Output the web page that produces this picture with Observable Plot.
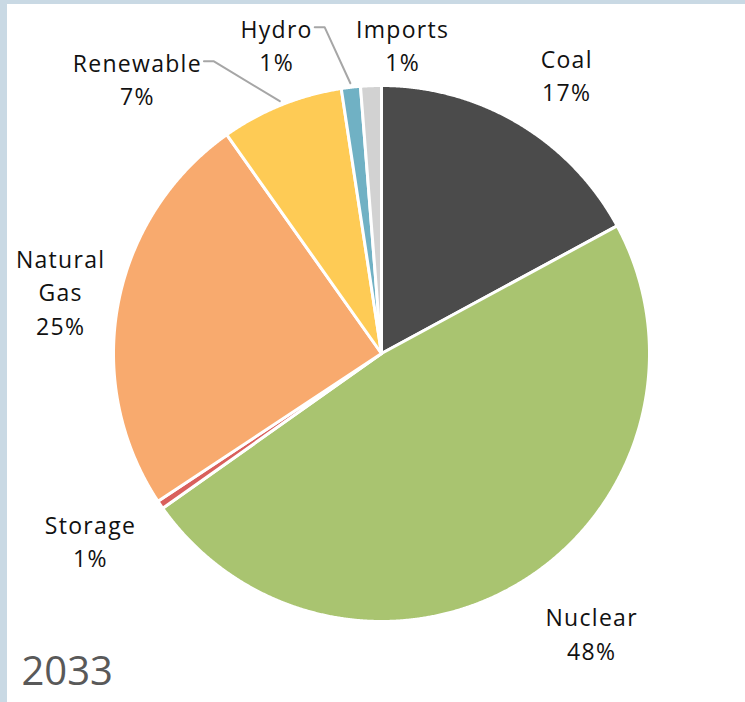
<!DOCTYPE html>
<html>
<head>
<meta charset="utf-8">
<script src="https://cdn.jsdelivr.net/npm/d3@7"></script>
<script src="https://cdn.jsdelivr.net/npm/@observablehq/plot@0.6"></script>
<style>
  html, body { margin: 0; padding: 0; background: #ffffff; }
  #frame { position: relative; width: 745px; height: 702px; overflow: hidden; background: #ffffff; }
  #frame svg { position: absolute; left: 0; top: 0; }
  .strip { position: absolute; background: #c9d9e4; }
  #stripTop { left: 0; top: 0; width: 745px; height: 4px; }
  #stripLeft { left: 0; top: 0; width: 7px; height: 702px; }
</style>
</head>
<body>
<div id="frame"><div id="plot"></div><div class="strip" id="stripTop"></div><div class="strip" id="stripLeft"></div></div>
<script>
// ---- data ----
const sources = ["Coal", "Nuclear", "Storage", "Natural Gas", "Renewable", "Hydro", "Imports"];
const shares = [17.1, 48.1, 0.5, 24.5, 7.4, 1.15, 1.25];
const shareLabels = ["17%", "48%", "1%", "25%", "7%", "1%", "1%"];
const labelNames = ["Coal", "Nuclear", "Storage", "Natural\nGas", "Renewable", "Hydro", "Imports"];
const colors = ["#4b4b4b", "#a9c470", "#d9605c", "#f8aa6e", "#fecb55", "#70b1c4", "#d2d2d2"];
const yearLabel = "2033";

// ---- layout ----
const W = 745, H = 702;
const cx = 381, cy = 353, R = 268;
const fontFamily = "'Open Sans', Lato, sans-serif";
const fontSize = 23, lineHeight = 1.45, letterSpacing = 1.3;
// label placement: [angle in degrees clockwise from top, radius relative to pie radius]
const labelPlacement = {
  "Coal": [33.5, 1.252],
  "Nuclear": [143.0, 1.303],
  "Storage": [237.4, 1.289],
  "Natural Gas": [281.1, 1.220],
  "Renewable": [318.5, 1.375],
  "Hydro": [341.3, 1.221],
  "Imports": [3.9, 1.159]
};
const withLeader = ["Renewable", "Hydro"];

const pie = d3.pie().sort(null).value(d => d)(shares);
const polar = (a, r) => ({x: r * Math.sin(a), y: r * Math.cos(a)});

// slice outlines
const slicePts = [];
pie.forEach((p, i) => {
  const name = sources[i];
  slicePts.push({name, ...polar(0, 0)});
  const n = Math.max(2, Math.ceil((p.endAngle - p.startAngle) / 0.004));
  for (let k = 0; k <= n; k++) {
    const a = p.startAngle + (p.endAngle - p.startAngle) * k / n;
    slicePts.push({name, ...polar(a, 1)});
  }
  slicePts.push({name, ...polar(0, 0)});
});

// text width measurement
const ctx = document.createElement("canvas").getContext("2d");
ctx.font = `${fontSize}px ${fontFamily}`;
const textWidth = s => ctx.measureText(s).width + letterSpacing * s.length;

const labels = pie.map((p, i) => {
  const name = sources[i];
  const mid = (p.startAngle + p.endAngle) / 2;
  const [deg, r] = labelPlacement[name];
  return {name, mid, text: labelNames[i] + "\n" + shareLabels[i], ...polar(deg * Math.PI / 180, r)};
});

// leader lines
const leaderPts = [];
labels.forEach((l, i) => {
  if (!withLeader.includes(l.name)) return;
  const firstLine = labelNames[i].split("\n")[0];
  const halfW = textWidth(firstLine) / 2;
  const lineY = l.y + (lineHeight * fontSize / 2 - fontSize * 0.02) / R;
  const x0 = l.x + (halfW + 2) / R;
  leaderPts.push({name: l.name, x: x0, y: lineY});
  leaderPts.push({name: l.name, x: x0 + 10 / R, y: lineY});
  leaderPts.push({name: l.name, ...polar(l.mid, 1.015)});
});

const chart = Plot.plot({
  width: W,
  height: H,
  margin: 0,
  style: {background: "transparent", fontFamily},
  x: {domain: [-cx / R, (W - cx) / R], axis: null},
  y: {domain: [-(H - cy) / R, cy / R], axis: null},
  color: {domain: sources, range: colors},
  marks: [
    Plot.line(slicePts, {
      x: "x", y: "y", z: "name", fill: "name",
      stroke: "white", strokeWidth: 3, strokeLinejoin: "round"
    }),
    Plot.line(leaderPts, {
      x: "x", y: "y", z: "name", stroke: "#a6a6a6", strokeWidth: 2
    }),
    Plot.text(labels, {
      x: "x", y: "y", text: "text",
      fontSize, lineHeight, fill: "#111111", fontFamily
    }),
    Plot.text([yearLabel], {
      frameAnchor: "bottom-left", text: d => d,
      textAnchor: "start", lineAnchor: "bottom",
      dx: 21, dy: -18, fontSize: 40, fill: "#595959", fontFamily
    })
  ]
});
chart.querySelectorAll("g[aria-label='text']").forEach((g, i) => {
  if (i === 0) g.setAttribute("letter-spacing", letterSpacing);
});
document.getElementById("plot").appendChild(chart);
</script>
</body>
</html>
